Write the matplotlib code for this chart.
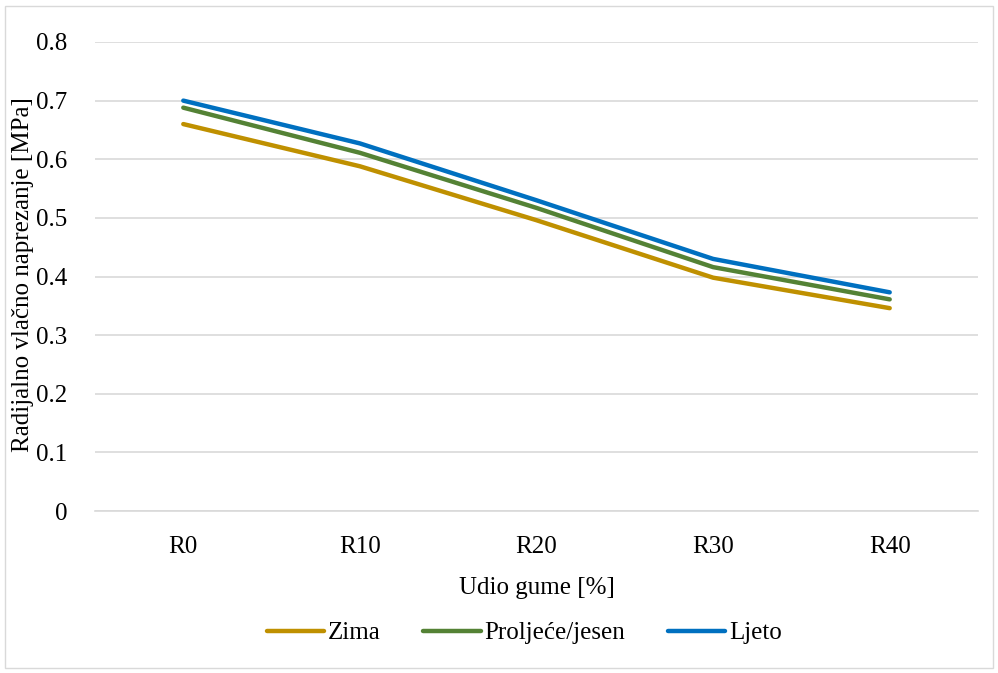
import matplotlib.pyplot as plt
from matplotlib.patches import Rectangle

# podaci
kategorije = ['R0', 'R10', 'R20', 'R30', 'R40']
zima = [0.660, 0.588, 0.496, 0.398, 0.346]
proljece_jesen = [0.688, 0.611, 0.517, 0.416, 0.361]
ljeto = [0.700, 0.627, 0.530, 0.430, 0.373]
y_ticks = [0, 0.1, 0.2, 0.3, 0.4, 0.5, 0.6, 0.7, 0.8]

plt.rcParams['font.family'] = ['Liberation Serif', 'DejaVu Serif']
fs = 18

fig = plt.figure(figsize=(9.98, 6.73), dpi=100)
ax = fig.add_axes([95/998, 1-511/673, (978-95)/998, (511-42)/673])

x = range(len(kategorije))
ax.plot(x, zima, color='#BF9000', lw=3.2, label='Zima', solid_capstyle='round')
ax.plot(x, proljece_jesen, color='#548235', lw=3.2, label='Proljeće/jesen', solid_capstyle='round')
ax.plot(x, ljeto, color='#0070C0', lw=3.2, label='Ljeto', solid_capstyle='round')

ax.set_xlim(-0.5, 4.5)
ax.set_ylim(0, 0.8)
ax.set_yticks(y_ticks)
ax.set_yticklabels(['0' if v == 0 else f'{v:.1f}' for v in y_ticks], fontsize=fs)
ax.set_xticks(list(x))
ax.set_xticklabels(kategorije, fontsize=fs)
ax.tick_params(axis='y', length=0, pad=20)
ax.tick_params(axis='x', length=0, pad=18)
ax.grid(axis='y', color='#D9D9D9', lw=1.2)
ax.set_axisbelow(True)
for s in ['top', 'right', 'left']:
    ax.spines[s].set_visible(False)
ax.spines['bottom'].set_color('#D9D9D9')
ax.spines['bottom'].set_linewidth(1.2)

ax.set_xlabel('Udio gume [%]', fontsize=fs, labelpad=14)
fig.text(23/998, 1-275/673, 'Radijalno vlačno naprezanje [MPa]', rotation=90,
         fontsize=fs, ha='center', va='center')

fig.legend(loc='center', bbox_to_anchor=(524/998, 1-633/673), ncol=3, frameon=False,
           fontsize=fs, handlelength=2.3, handletextpad=0.15, columnspacing=1.7)

# okvir grafikona
fig.patches.append(Rectangle((5/998, 5/673), 988/998, 662/673, transform=fig.transFigure,
                             fill=False, edgecolor='#D9D9D9', lw=1))

plt.savefig('out.png', dpi=100)
